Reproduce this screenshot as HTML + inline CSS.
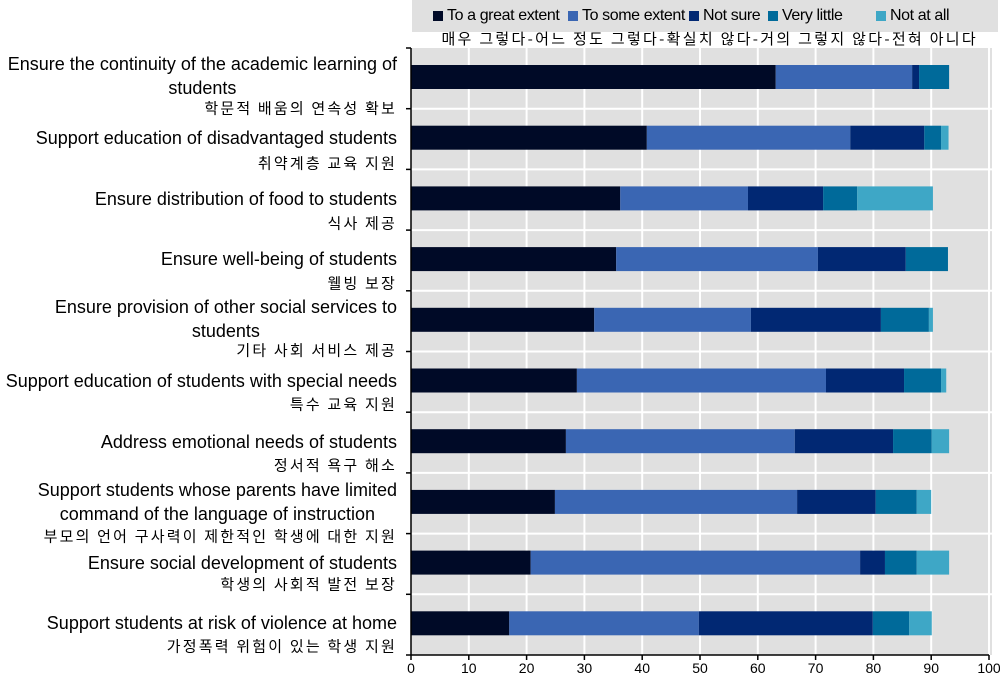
<!DOCTYPE html>
<html><head><meta charset="utf-8"><style>
body{margin:0;width:1000px;height:678px;background:#fff;position:relative;overflow:hidden;font-family:"Liberation Sans","Noto Sans CJK KR",sans-serif;}
.en{position:absolute;right:603px;font-size:18px;line-height:24px;text-align:center;color:#000;white-space:nowrap;letter-spacing:0px;transform:translateY(-50%);}
.ko{position:absolute;right:603px;font-size:15px;letter-spacing:2.2px;color:#000;white-space:nowrap;transform:translateY(-50%);font-family:"Noto Sans CJK KR","NanumGothic",sans-serif;}
#legend{position:absolute;left:412px;top:0;width:586px;height:32px;background:#e0e0e0;}
.li{position:absolute;top:7px;font-size:16px;letter-spacing:-0.4px;display:flex;align-items:center;}
.sw{width:10px;height:10px;margin-right:4px;display:inline-block;}
</style></head><body>
<div id="legend">
 <div class="li" style="left:21px"><span class="sw" style="background:#000a27"></span>To a great extent</div>
 <div class="li" style="left:156px"><span class="sw" style="background:#3a66b3"></span>To some extent</div>
 <div class="li" style="left:277px"><span class="sw" style="background:#012873"></span>Not sure</div>
 <div class="li" style="left:356px"><span class="sw" style="background:#006a9a"></span>Very little</div>
 <div class="li" style="left:464px"><span class="sw" style="background:#3ea7c6"></span>Not at all</div>
</div>
<div style="position:absolute;right:22px;top:28px;font-size:15px;letter-spacing:2.3px;font-family:'Noto Sans CJK KR',sans-serif;white-space:nowrap;">매우 그렇다-어느 정도 그렇다-확실치 않다-거의 그렇지 않다-전혀 아니다</div>
<svg id="chart" width="1000" height="678" style="position:absolute;left:0;top:0"></svg>
<div id="labels"></div>
<script>
const categories=["Ensure the continuity of the academic learning of|students","Support education of disadvantaged students","Ensure distribution of food to students","Ensure well-being of students","Ensure provision of other social services to|students","Support education of students with special needs","Address emotional needs of students","Support students whose parents have limited|command of the language of instruction","Ensure social development of students","Support students at risk of violence at home"];
const koreanLabels=["학문적 배움의 연속성 확보","취약계층 교육 지원","식사 제공","웰빙 보장","기타 사회 서비스 제공","특수 교육 지원","정서적 욕구 해소","부모의 언어 구사력이 제한적인 학생에 대한 지원","학생의 사회적 발전 보장","가정폭력 위험이 있는 학생 지원"];
const greatExtent=[63.1,40.8,36.2,35.5,31.7,28.7,26.8,24.9,20.7,17.0];
const someExtent=[23.6,35.2,22.1,34.9,27.1,43.1,39.6,41.9,57.0,32.8];
const notSure=[1.2,12.8,13.0,15.2,22.5,13.5,17.0,13.6,4.3,30.1];
const veryLittle=[5.2,2.9,5.9,7.3,8.3,6.4,6.7,7.1,5.5,6.3];
const notAtAll=[0,1.3,13.1,0,0.7,0.9,3.0,2.5,5.6,3.9];
const xTicks=[0,10,20,30,40,50,60,70,80,90,100];
const series=[greatExtent,someExtent,notSure,veryLittle,notAtAll];
const colors=["#000a27","#3a66b3","#012873","#006a9a","#3ea7c6"];
const snames=["great","some","notsure","verylittle","notatall"];
const X0=411,XW=578,TOP=48,ROW=60.7,N=categories.length;
const x=v=>X0+v/100*XW;
const y=i=>TOP+i*ROW;
const NS="http://www.w3.org/2000/svg";
const svg=document.getElementById('chart');
function mk(t,a){const e=document.createElementNS(NS,t);for(const k in a)e.setAttribute(k,a[k]);svg.appendChild(e);return e;}
const bg=mk('rect',{x:X0,y:TOP,width:XW+3,height:N*ROW,fill:'#e0e0e0'});


xTicks.forEach(t=>{if(t>0){const g=mk('line',{x1:x(t),x2:x(t),y1:TOP,y2:TOP+N*ROW,stroke:'#fff','stroke-width':2});

}});
for(let i=1;i<N;i++){const g=mk('line',{x1:X0,x2:X0+XW+3,y1:y(i),y2:y(i),stroke:'#fff','stroke-width':2});

}
for(let i=0;i<N;i++){let acc=0;series.forEach((s,k)=>{const v=s[i];if(v>0){const r=mk('rect',{x:x(acc),y:y(i)+17,width:x(acc+v)-x(acc),height:24,fill:colors[k]});

}acc+=v;});}
mk('line',{x1:X0,x2:X0,y1:TOP,y2:TOP+N*ROW,stroke:'#000','stroke-width':1.5});
for(let i=0;i<=N;i++)mk('line',{x1:X0-5,x2:X0,y1:y(i),y2:y(i),stroke:'#000','stroke-width':1.5});
mk('line',{x1:X0,x2:X0+XW,y1:TOP+N*ROW,y2:TOP+N*ROW,stroke:'#000','stroke-width':1.5});
xTicks.forEach(t=>{mk('line',{x1:x(t),x2:x(t),y1:TOP+N*ROW,y2:TOP+N*ROW+5,stroke:'#000','stroke-width':1.5});
const tx=mk('text',{x:x(t),y:673,'text-anchor':'middle','font-size':14,fill:'#000','font-family':'Liberation Sans, sans-serif'});tx.textContent=t;

});
const enY=[76,138,199,259,319,381,442,502,563,623];
const koY=[108,163,223,283,350,404,465,536,584,646];
const L=document.getElementById('labels');
categories.forEach((c,i)=>{const d=document.createElement('div');d.className='en';d.style.top=enY[i]+'px';d.innerHTML=c.split('|').join('<br>');


L.appendChild(d);
const k=document.createElement('div');k.className='ko';k.style.top=koY[i]+'px';k.textContent=koreanLabels[i];


L.appendChild(k);});
</script>
</body></html>
